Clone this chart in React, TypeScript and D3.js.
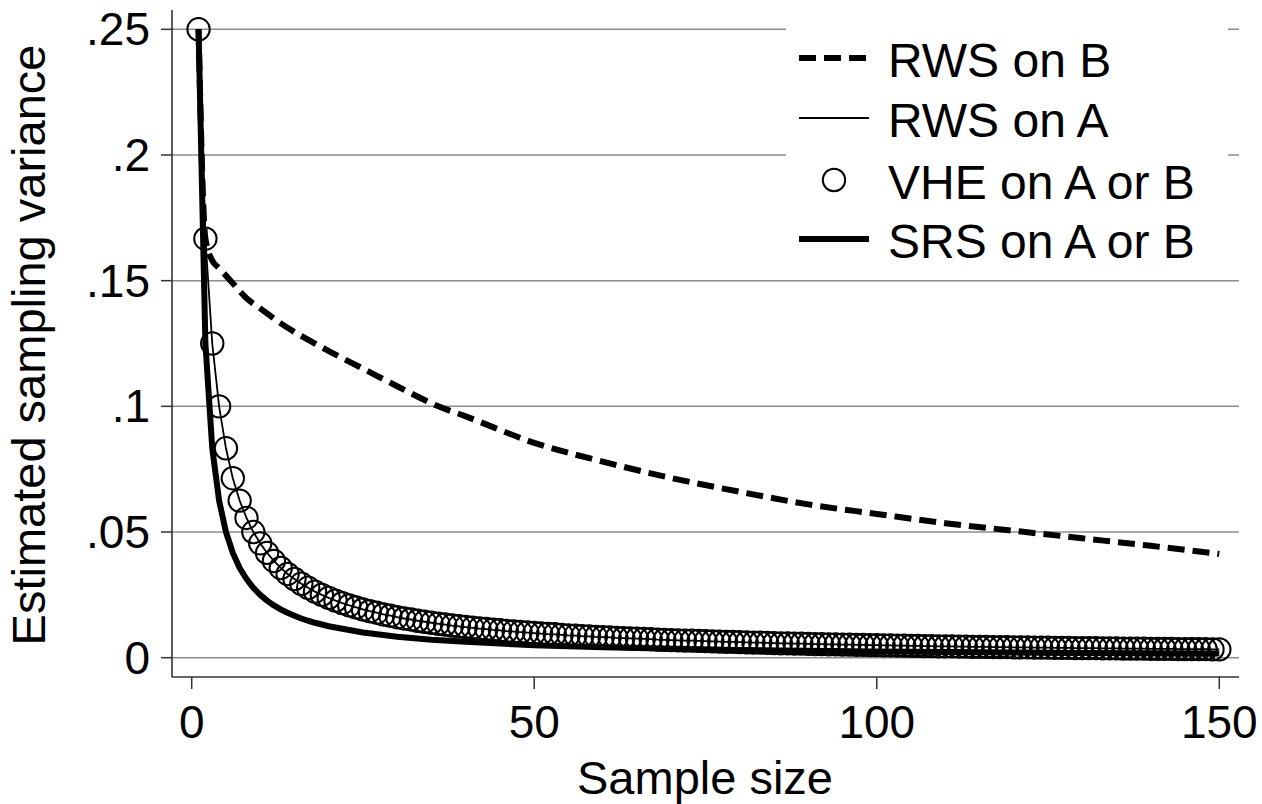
import React from "react";
import * as d3 from "d3";

// ---- data ----
const sampleSizes: number[] = d3.range(1, 151);

// VHE on A or B (circles), n = 1..150
const vheValues: number[] = [
  0.25, 0.1667, 0.125, 0.1, 0.0833, 0.0714, 0.0625, 0.0556, 0.05, 0.0455,
  0.0417, 0.0385, 0.0357, 0.0333, 0.0313, 0.0294, 0.0278, 0.0263, 0.025, 0.0238,
  0.0227, 0.0217, 0.0208, 0.02, 0.0192, 0.0185, 0.0179, 0.0172, 0.0167, 0.0161,
  0.0156, 0.0152, 0.0147, 0.0143, 0.0139, 0.0135, 0.0132, 0.0128, 0.0125, 0.0122,
  0.0119, 0.0116, 0.0114, 0.0111, 0.0109, 0.0106, 0.0104, 0.0102, 0.01, 0.0098,
  0.0096, 0.0094, 0.0093, 0.0091, 0.0089, 0.0088, 0.0086, 0.0085, 0.0083, 0.0082,
  0.0081, 0.0079, 0.0078, 0.0077, 0.0076, 0.0075, 0.0074, 0.0072, 0.0071, 0.007,
  0.0069, 0.0068, 0.0068, 0.0067, 0.0066, 0.0065, 0.0064, 0.0063, 0.0063, 0.0062,
  0.0061, 0.006, 0.006, 0.0059, 0.0058, 0.0057, 0.0057, 0.0056, 0.0056, 0.0055,
  0.0054, 0.0054, 0.0053, 0.0053, 0.0052, 0.0052, 0.0051, 0.0051, 0.005, 0.005,
  0.0049, 0.0049, 0.0048, 0.0048, 0.0047, 0.0047, 0.0046, 0.0046, 0.0045, 0.0045,
  0.0045, 0.0044, 0.0044, 0.0043, 0.0043, 0.0043, 0.0042, 0.0042, 0.0042, 0.0041,
  0.0041, 0.0041, 0.004, 0.004, 0.004, 0.0039, 0.0039, 0.0039, 0.0038, 0.0038,
  0.0038, 0.0038, 0.0037, 0.0037, 0.0037, 0.0036, 0.0036, 0.0036, 0.0036, 0.0035,
  0.0035, 0.0035, 0.0035, 0.0034, 0.0034, 0.0034, 0.0034, 0.0034, 0.0033, 0.0033,
];

// RWS on A (thin line) follows the circles
const rwsAValues: number[] = vheValues;

// SRS on A or B (thick line)
const srsN: number[] = [1, 2, 3, 4, 5, 6, 7, 8, 9, 10, 11, 12, 13, 14, 15, 16, 17, 18, 19, 20, 25, 30, 35, 40, 45, 50, 60, 70, 80, 90, 100, 110, 120, 130, 140, 150];
const srsValues: number[] = [0.25, 0.125, 0.0833, 0.0625, 0.05, 0.0417, 0.0357, 0.0313, 0.0278, 0.025, 0.0227, 0.0208, 0.0192, 0.0179, 0.0167, 0.0156, 0.0147, 0.0139, 0.0132, 0.0125, 0.01, 0.0083, 0.0071, 0.0063, 0.0056, 0.005, 0.0042, 0.0036, 0.0031, 0.0028, 0.0025, 0.0023, 0.0021, 0.0019, 0.0018, 0.0017];

// RWS on B (dashed line)
const rwsBN: number[] = [1, 2, 3, 4, 5, 6, 8, 10, 13, 16, 20, 25, 30, 36, 40, 50, 60, 70, 80, 90, 100, 110, 120, 130, 140, 150];
const rwsBValues: number[] = [0.25, 0.1667, 0.158, 0.155, 0.152, 0.149, 0.143, 0.139, 0.133, 0.128, 0.122, 0.115, 0.108, 0.1, 0.096, 0.0855, 0.078, 0.0715, 0.066, 0.061, 0.0572, 0.0535, 0.0505, 0.0475, 0.0445, 0.0413];

const xTicks: number[] = [0, 50, 100, 150];
const yTicks: number[] = [0, 0.05, 0.1, 0.15, 0.2, 0.25];
const yTickLabels: string[] = ["0", ".05", ".1", ".15", ".2", ".25"];
const legendLabels: string[] = ["RWS on B", "RWS on A", "VHE on A or B", "SRS on A or B"];
const xTitle = "Sample size";
const yTitle = "Estimated sampling variance";

const FONT = "'Liberation Sans', Arial, Helvetica, sans-serif";

export default function App() {
  const W = 1262;
  const H = 804;
  const axisLeft = 172;
  const axisBottom = 677;
  const plotRight = 1239;
  const axisTop = 10;

  const x = d3.scaleLinear().domain([0, 150]).range([191.7, 1219.3]);
  const y = d3.scaleLinear().domain([0, 0.25]).range([657.7, 29.3]);

  const lineGen = d3
    .line<[number, number]>()
    .x((d) => x(d[0]))
    .y((d) => y(d[1]));

  const srsPath = lineGen(srsN.map((n, i) => [n, srsValues[i]]))!;
  const rwsAPath = lineGen(sampleSizes.map((n, i) => [n, rwsAValues[i]]))!;
  const rwsBPath = d3
    .line<[number, number]>()
    .x((d) => x(d[0]))
    .y((d) => y(d[1]))
    .curve(d3.curveMonotoneX)(rwsBN.map((n, i) => [n, rwsBValues[i]]))!;

  const legendX0 = 799;
  const legendX1 = 869;
  const legendTextX = 888;
  const legendRowsY = [58, 118, 180, 239];

  return (
    <svg
      width={W}
      height={H}
      viewBox={`0 0 ${W} ${H}`}
      style={{ position: "absolute", left: 0, top: 0, background: "#fff" }}
      fontFamily={FONT}
    >
      <rect x={0} y={0} width={W} height={H} fill="#fff" />
      {/* gridlines */}
      {yTicks.map((t) => (
        <line key={"g" + t} x1={axisLeft} x2={plotRight} y1={y(t)} y2={y(t)} stroke="#8c8c8c" strokeWidth={1.5} />
      ))}
      {/* legend background */}
      <rect x={786} y={8} width={442} height={262} fill="#fff" />
      {/* axes */}
      <line x1={axisLeft} x2={axisLeft} y1={axisTop} y2={axisBottom} stroke="#333" strokeWidth={1.6} />
      <line x1={axisLeft} x2={plotRight} y1={axisBottom} y2={axisBottom} stroke="#333" strokeWidth={1.6} />
      {yTicks.map((t, i) => (
        <g key={"yt" + t}>
          <line x1={161} x2={axisLeft} y1={y(t)} y2={y(t)} stroke="#333" strokeWidth={1.5} />
          <text x={150} y={y(t) + 16} fontSize={46} textAnchor="end" fill="#000">
            {yTickLabels[i]}
          </text>
        </g>
      ))}
      {xTicks.map((t) => (
        <g key={"xt" + t}>
          <line x1={x(t)} x2={x(t)} y1={axisBottom} y2={689} stroke="#333" strokeWidth={1.5} />
          <text x={x(t)} y={738} fontSize={46} textAnchor="middle" fill="#000">
            {t}
          </text>
        </g>
      ))}
      <text x={705} y={794} fontSize={47} textAnchor="middle" fill="#000">
        {xTitle}
      </text>
      <text transform={`translate(45,345) rotate(-90)`} fontSize={47} textAnchor="middle" fill="#000">
        {yTitle}
      </text>

      {/* series */}
      <path d={rwsBPath} fill="none" stroke="#000" strokeWidth={6} strokeDasharray="17 8" />
      <path d={srsPath} fill="none" stroke="#000" strokeWidth={6} strokeLinejoin="round" />
      <path d={rwsAPath} fill="none" stroke="#000" strokeWidth={1.8} />
      {sampleSizes.map((n, i) => (
        <circle key={"c" + n} cx={x(n)} cy={y(vheValues[i])} r={11.2} fill="none" stroke="#000" strokeWidth={2} />
      ))}

      {/* legend */}
      <line x1={legendX0} x2={legendX1} y1={legendRowsY[0]} y2={legendRowsY[0]} stroke="#000" strokeWidth={6} strokeDasharray="17 8" />
      <line x1={legendX0} x2={legendX1} y1={legendRowsY[1]} y2={legendRowsY[1]} stroke="#000" strokeWidth={1.8} />
      <circle cx={(legendX0 + legendX1) / 2} cy={legendRowsY[2]} r={11.2} fill="none" stroke="#000" strokeWidth={2} />
      <line x1={legendX0} x2={legendX1} y1={legendRowsY[3]} y2={legendRowsY[3]} stroke="#000" strokeWidth={6} />
      {legendLabels.map((l, i) => (
        <text key={l} x={legendTextX} y={legendRowsY[i] + 19} fontSize={48} fill="#000">
          {l}
        </text>
      ))}
    </svg>
  );
}
